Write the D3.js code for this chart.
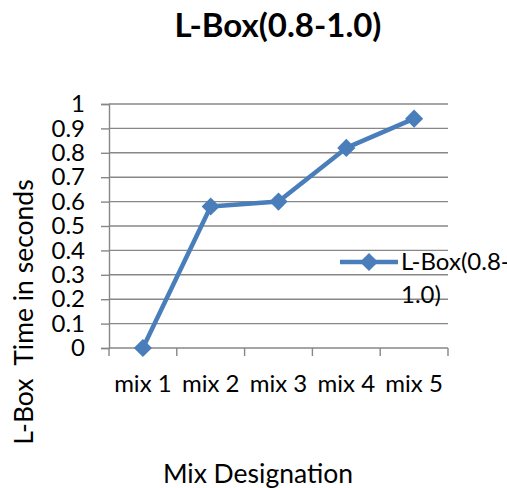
<!DOCTYPE html>
<html>
<head>
<meta charset="utf-8">
<script src="https://cdn.jsdelivr.net/npm/d3@7"></script>
<style>
  body { margin: 0; background: #fff; overflow: hidden; }
  svg { display: block; font-family: Lato, "Open Sans", sans-serif; }
</style>
</head>
<body>
<svg id="chart" width="507" height="488"></svg>
<script>
const categories = ["mix 1", "mix 2", "mix 3", "mix 4", "mix 5"];
const lboxValues = [0, 0.58, 0.6, 0.82, 0.94];
const yTicks = [0, 0.1, 0.2, 0.3, 0.4, 0.5, 0.6, 0.7, 0.8, 0.9, 1];
const seriesName = "L-Box(0.8-1.0)";
const legendLines = ["L-Box(0.8-", "1.0)"];

(function drawChart() {
  const svg = d3.select("#chart");
  const plotLeft = 109, plotRight = 448, plotTop = 104, plotBottom = 348;
  const lineColor = "#4a7ebb";
  const axisColor = "#878787";
  const font = "Lato, 'Open Sans', sans-serif";
  const tickFont = 24;

  const x = d3.scaleBand().domain(categories).range([plotLeft, plotRight]);
  const y = d3.scaleLinear().domain([0, 1]).range([plotBottom, plotTop]);

  // horizontal gridlines
  svg.append("g").selectAll("line").data(yTicks.slice(1)).join("line")
    .attr("x1", plotLeft).attr("x2", plotRight)
    .attr("y1", d => y(d)).attr("y2", d => y(d))
    .attr("stroke", axisColor).attr("stroke-width", 1.4);

  // y axis
  const yAxis = svg.append("g").attr("transform", `translate(${plotLeft},0)`)
    .call(d3.axisLeft(y).tickValues(yTicks).tickSize(8).tickPadding(16)
      .tickFormat(d => d === 0 || d === 1 ? String(d) : d3.format(".1f")(d)));
  yAxis.select(".domain").attr("stroke", axisColor).attr("stroke-width", 1.4);
  yAxis.selectAll(".tick line").attr("stroke", axisColor).attr("stroke-width", 1.4);
  yAxis.selectAll("text").attr("font-size", tickFont).attr("fill", "#000")
    .attr("font-family", font);

  // x axis with ticks at category boundaries
  const xAxisG = svg.append("g").attr("transform", `translate(0,${plotBottom})`);
  xAxisG.append("line").attr("x1", plotLeft).attr("x2", plotRight)
    .attr("stroke", axisColor).attr("stroke-width", 1.4);
  const bounds = categories.map(c => x(c)).concat([x(categories[categories.length - 1]) + x.bandwidth()]);
  xAxisG.selectAll("line.tk").data(bounds).join("line").attr("class", "tk")
    .attr("x1", d => d).attr("x2", d => d).attr("y1", 0).attr("y2", 8)
    .attr("stroke", axisColor).attr("stroke-width", 1.4);
  xAxisG.selectAll("text").data(categories).join("text")
    .attr("x", d => x(d) + x.bandwidth() / 2).attr("y", 44)
    .attr("text-anchor", "middle").attr("font-size", tickFont).attr("fill", "#000")
    .text(d => d);

  // series line and diamond markers
  const pts = categories.map((c, i) => [x(c) + x.bandwidth() / 2, y(lboxValues[i])]);
  svg.append("path").attr("d", d3.line()(pts))
    .attr("fill", "none").attr("stroke", lineColor).attr("stroke-width", 4.5)
    .attr("stroke-linejoin", "round");
  const diamond = d3.symbol().type(d3.symbolSquare).size(165);
  svg.append("g").selectAll("path").data(pts).join("path")
    .attr("d", diamond)
    .attr("transform", d => `translate(${d[0]},${d[1]}) rotate(45)`)
    .attr("fill", lineColor);

  // legend
  const lg = svg.append("g");
  lg.append("line").attr("x1", 340).attr("x2", 398).attr("y1", 262).attr("y2", 262)
    .attr("stroke", lineColor).attr("stroke-width", 4.5);
  lg.append("path").attr("d", diamond).attr("transform", "translate(369,262) rotate(45)")
    .attr("fill", lineColor);
  lg.selectAll("text").data(legendLines).join("text")
    .attr("x", 401).attr("y", (d, i) => 270 + i * 33)
    .attr("font-size", tickFont).text(d => d);

  // titles
  svg.append("text").attr("x", 278).attr("y", 37).attr("text-anchor", "middle")
    .attr("font-size", 33).attr("font-weight", "bold").text(seriesName);
  svg.append("text").attr("x", 258).attr("y", 483).attr("text-anchor", "middle")
    .attr("font-size", 26.5).text("Mix Designation");
  svg.append("text").attr("transform", "translate(33,312) rotate(-90)")
    .attr("text-anchor", "middle").attr("font-size", 26.5)
    .attr("xml:space", "preserve").text("L-Box  Time in seconds");
})();
</script>
</body>
</html>
